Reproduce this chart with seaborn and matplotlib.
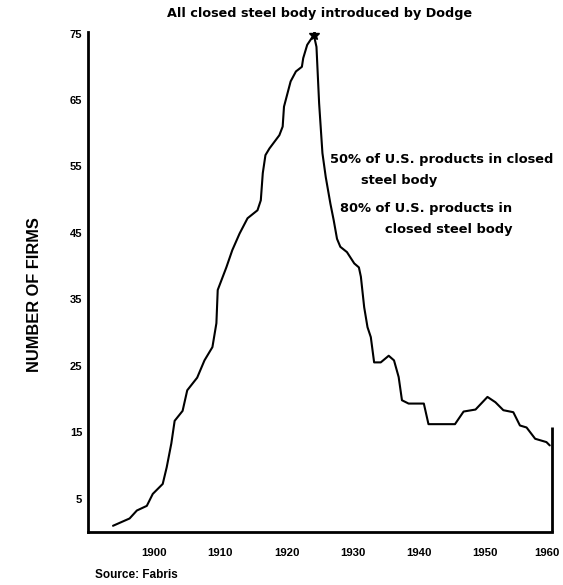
import matplotlib
matplotlib.use('Agg')
import matplotlib.pyplot as plt
import matplotlib.transforms as mtransforms
import seaborn as sns
import pandas as pd

# Number of firms in the US auto industry
years = [1893.8, 1896.3, 1897.4, 1898.9, 1899.8, 1901.3, 1901.9, 1902.6, 1903.1, 1904.3,
         1905.0, 1906.5, 1907.6, 1908.8, 1909.4, 1909.6, 1910.9, 1911.8, 1912.9, 1914.1,
         1915.6, 1916.1, 1916.4, 1916.8, 1917.4, 1918.9, 1919.4, 1919.6, 1920.6, 1921.4,
         1922.3, 1922.5, 1923.1, 1924.1, 1924.5, 1924.9, 1925.4, 1925.9, 1926.6, 1927.1,
         1927.6, 1928.1, 1929.1, 1930.2, 1930.9, 1931.2, 1931.7, 1932.2, 1932.7, 1933.2,
         1934.2, 1935.4, 1936.2, 1936.9, 1937.4, 1938.4, 1940.7, 1941.4, 1945.4, 1946.7,
         1948.5, 1950.3, 1951.5, 1952.7, 1954.2, 1955.2, 1956.2, 1957.5, 1959.2, 1959.7]
firms = [0.9, 2.0, 3.2, 3.9, 5.7, 7.2, 9.7, 13.3, 16.7, 18.2,
         21.3, 23.2, 25.8, 27.8, 31.4, 36.4, 39.8, 42.4, 44.9, 47.2,
         48.4, 49.9, 54.0, 56.7, 57.7, 59.7, 61.0, 64.0, 67.8, 69.3,
         70.0, 71.3, 73.3, 74.8, 73.0, 64.5, 57.0, 53.4, 49.4, 46.9,
         44.1, 42.9, 42.1, 40.4, 39.8, 38.4, 33.8, 30.8, 29.3, 25.5,
         25.5, 26.5, 25.8, 23.3, 19.8, 19.3, 19.3, 16.2, 16.2, 18.1,
         18.4, 20.3, 19.5, 18.3, 18.0, 16.0, 15.7, 14.0, 13.5, 13.0]

y_ticks = [5, 15, 25, 35, 45, 55, 65, 75]
x_ticks = [1900, 1910, 1920, 1930, 1940, 1950, 1960]

peak_year = 1924.1
peak_value = 74.8
end_year = 1960
end_top = 15.8

df = pd.DataFrame({'Year': years, 'Firms': firms})

sns.set_style('white')
plt.rcParams['font.family'] = ['Liberation Sans', 'DejaVu Sans']
plt.rcParams['text.color'] = 'black'

fig = plt.figure(figsize=(5.63, 5.85), dpi=100)
ax = fig.add_axes([0.156, 0.091, 0.824, 0.855])

sns.lineplot(data=df, x='Year', y='Firms', ax=ax, color='black', linewidth=1.5)
ax.plot([peak_year], [peak_value], marker='*', color='black', markersize=7)
ax.vlines(end_year, 0, end_top, color='black', linewidth=2, clip_on=False)

ax.set_xlim(1890, 1960)
ax.set_ylim(0, 75.3)
ax.set_xticks(x_ticks)
ax.set_yticks(y_ticks)
ax.set_xticklabels([str(t) for t in x_ticks], fontsize=8.2, fontweight='bold')
ax.set_yticklabels([str(t) for t in y_ticks], fontsize=8, fontweight='bold')
ax.tick_params(axis='x', direction='in', length=8, width=1.3, pad=12, colors='black')
ax.tick_params(axis='y', direction='in', length=6, width=1.3, pad=4, colors='black')

# last year label sits a little left, as in the scan
last = ax.get_xticklabels()[-1]
last.set_transform(last.get_transform() + mtransforms.ScaledTranslation(-5 / 100, 0, fig.dpi_scale_trans))

for side in ['top', 'right']:
    ax.spines[side].set_visible(False)
for side in ['left', 'bottom']:
    ax.spines[side].set_linewidth(2)
    ax.spines[side].set_color('black')

ax.set_xlabel('')
ax.set_ylabel('')
fig.text(0.062, 0.496, 'NUMBER OF FIRMS', rotation=90, ha='center', va='center',
         fontsize=11.8, fontweight='bold', color='black')

note_font = ['DejaVu Sans']
fig.text(0.568, 0.977, 'All closed steel body introduced by Dodge',
         ha='center', va='center', fontsize=9.2, fontweight='bold', family=note_font, color='black')
fig.text(0.586, 0.728, '50% of U.S. products in closed', ha='left', va='center',
         fontsize=9.4, fontweight='bold', family=note_font, color='black')
fig.text(0.641, 0.692, 'steel body', ha='left', va='center',
         fontsize=9.4, fontweight='bold', family=note_font, color='black')
fig.text(0.91, 0.643, '80% of U.S. products in', ha='right', va='center',
         fontsize=9.4, fontweight='bold', family=note_font, color='black')
fig.text(0.91, 0.607, 'closed steel body', ha='right', va='center',
         fontsize=9.4, fontweight='bold', family=note_font, color='black')
fig.text(0.169, 0.017, 'Source: Fabris', ha='left', va='center',
         fontsize=8.5, fontweight='bold', color='black')

fig.savefig('out.png', dpi=100)
